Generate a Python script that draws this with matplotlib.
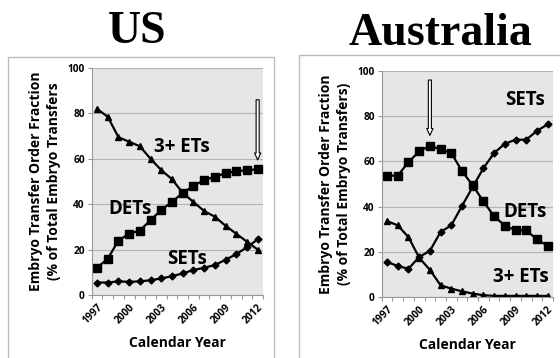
import matplotlib
matplotlib.use("Agg")
import matplotlib.pyplot as plt
from matplotlib.patches import Rectangle

years = list(range(1997, 2013))
tick_years = [1997, 2000, 2003, 2006, 2009, 2012]

us_det = [12, 16, 24, 27, 28.4, 33, 37.5, 41, 45, 48, 50.7, 52, 53.7, 54.5, 55, 55.4]
us_three = [82, 78.5, 69.5, 67.5, 65.5, 60, 55, 51, 45, 41, 37, 34.5, 30.5, 27, 23.5, 20]
us_set = [5.5, 5.5, 6, 5.8, 6, 6.5, 7.3, 8.3, 9.5, 11, 12, 13.2, 15.5, 18, 21, 24.5]

au_det = [53.7, 53.7, 59.7, 64.4, 67, 65.3, 63.7, 55.7, 49.4, 42.3, 35.7, 31.6, 29.5, 29.5, 25.5, 22.6]
au_set = [15.5, 13.7, 12.5, 17.7, 20.4, 28.8, 31.7, 40.3, 48.7, 57, 63.7, 67.8, 69.6, 69.6, 73.5, 76.4]
au_three = [33.6, 31.7, 26.5, 17.4, 12, 5.2, 3.7, 2.5, 1.5, 0.8, 0.5, 0.5, 0.5, 0.5, 0.5, 0.5]

FONT = ["Open Sans", "DejaVu Sans"]

fig = plt.figure(figsize=(5.6, 3.58), dpi=100)
W, H = 560.0, 358.0

# panel frames
fig.patches.append(Rectangle((8 / W, -0.1), (274 - 8) / W, 1 - 57 / H + 0.1,
                             transform=fig.transFigure, fill=False,
                             edgecolor="#bdbdbd", lw=1.0))
fig.patches.append(Rectangle((299 / W, -0.1), 0.6, 1 - 55 / H + 0.1,
                             transform=fig.transFigure, fill=False,
                             edgecolor="#bdbdbd", lw=1.0))

def make_axes(rect):
    l, t, r, b = rect
    ax = fig.add_axes([l / W, 1 - b / H, (r - l) / W, (b - t) / H])
    ax.set_facecolor("#e6e6e6")
    ax.set_xlim(-0.5, len(years) - 0.5)
    ax.set_ylim(0, 100)
    ax.set_yticks([0, 20, 40, 60, 80, 100])
    ax.grid(axis="y", color="#b3b3b3", lw=0.8)
    ax.set_axisbelow(True)
    for s in ("top", "right"):
        ax.spines[s].set_visible(False)
    for s in ("left", "bottom"):
        ax.spines[s].set_color("#999999")
        ax.spines[s].set_linewidth(0.8)
    idx = [years.index(y) for y in tick_years]
    ax.set_xticks(idx)
    ax.set_xticklabels([str(y) for y in tick_years], rotation=45, ha="right",
                       rotation_mode="anchor", fontsize=7.3, fontweight="bold",
                       family=FONT)
    ax.set_xticks([i - 0.5 for i in range(len(years) + 1)], minor=True)
    ax.tick_params(axis="x", which="major", length=0, pad=5)
    ax.tick_params(axis="x", which="minor", length=3, color="#999999", width=0.8)
    ax.tick_params(axis="y", length=3, color="#999999", width=0.8, pad=2)
    for lab in ax.get_yticklabels():
        lab.set_fontsize(7.3)
        lab.set_fontweight("bold")
        lab.set_family(FONT)
    ax.set_xlabel("Calendar Year", fontsize=10, fontweight="bold", family=FONT,
                  labelpad=7)
    return ax

def plot_series(ax, det, three, sets):
    x = list(range(len(years)))
    kw = dict(color="black", lw=1.6)
    ax.plot(x, det, marker="s", ms=5.5, **kw)
    ax.plot(x, three, marker="^", ms=5, **kw)
    ax.plot(x, sets, marker="D", ms=3.5, **kw)

def hollow_arrow(ax, x, y0, y1):
    ax.annotate("", xy=(x, y1), xytext=(x, y0),
                arrowprops=dict(arrowstyle="simple,head_length=0.5,head_width=0.45,tail_width=0.22",
                                fc="white", ec="black", lw=0.8,
                                shrinkA=0, shrinkB=0))

YL = dict(fontsize=10, fontweight="bold", family=FONT, labelpad=5, linespacing=1.3)

# US
ax1 = make_axes((91.7, 68, 263, 295))
plot_series(ax1, us_det, us_three, us_set)
ax1.set_ylabel("Embryo Transfer Order Fraction\n(% of Total Embryo Transfers", **YL)
lbl = dict(fontsize=13.5, fontweight="bold", family=FONT, ha="center", va="center")
ax1.text(7.9, 65.4, "3+ ETs", **lbl)
ax1.text(3.05, 38, "DETs", **lbl)
ax1.text(8.4, 16, "SETs", **lbl)
hollow_arrow(ax1, 15, 86, 59.5)

# Australia
ax2 = make_axes((381.7, 71, 553, 297))
plot_series(ax2, au_det, au_three, au_set)
ax2.set_ylabel("Embryo Transfer Order Fraction\n(% of Total Embryo Transfers)", **YL)
ax2.text(12.9, 87, "SETs", **lbl)
ax2.text(12.9, 37.6, "DETs", **lbl)
ax2.text(12.5, 8.8, "3+ ETs", **lbl)
hollow_arrow(ax2, 4, 96, 71.5)

# titles
fig.text(137.5 / W, 1 - 43 / H, "US", fontsize=33, fontweight="bold",
         family=["Liberation Serif", "DejaVu Serif"], ha="center", va="baseline")
fig.text(440 / W, 1 - 45 / H, "Australia", fontsize=33, fontweight="bold",
         family=["Liberation Serif", "DejaVu Serif"], ha="center", va="baseline")

fig.savefig("out.png", dpi=100)
